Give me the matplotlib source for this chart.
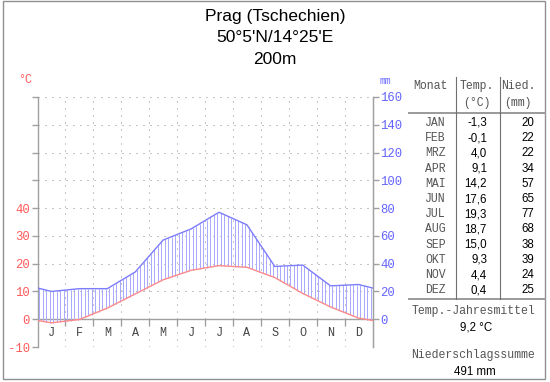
import numpy as np
import matplotlib
matplotlib.use("Agg")
import matplotlib.pyplot as plt
from matplotlib.patches import Rectangle
from matplotlib.lines import Line2D

# ---- data ----
title_lines = ["Prag (Tschechien)", "50°5'N/14°25'E", "200m"]
month_letters = ["J", "F", "M", "A", "M", "J", "J", "A", "S", "O", "N", "D"]
month_abbr = ["JAN", "FEB", "MRZ", "APR", "MAI", "JUN", "JUL", "AUG", "SEP", "OKT", "NOV", "DEZ"]
temperature = [-1.3, -0.1, 4.0, 9.1, 14.2, 17.6, 19.3, 18.7, 15.0, 9.3, 4.4, 0.4]
precipitation = [20, 22, 22, 34, 57, 65, 77, 68, 38, 39, 24, 25]
temp_labels = ["-1,3", "-0,1", "4,0", "9,1", "14,2", "17,6", "19,3", "18,7", "15,0", "9,3", "4,4", "0,4"]
annual_mean = "9,2 °C"
annual_sum = "491 mm"

W, H = 550, 382
fig = plt.figure(figsize=(W / 100, H / 100), dpi=100)
fig.patch.set_facecolor("white")

def fx(x):
    return x / W

def fy(y):
    return 1 - y / H

MONO = "Liberation Mono"
SANS = "Liberation Sans"
RED = "#ff5a5a"
BLUE = "#6464ff"
GRID = "#8a8a8a"
AXC = "#a0a0a0"

# ---- axes ----
left_px, right_px, top_px, bot_px = 37.5, 372.5, 97, 347
ax = fig.add_axes([fx(left_px), fy(bot_px), fx(right_px - left_px), (bot_px - top_px) / H])
ax.set_xlim(0, 12)
ax.set_ylim(-10, 80)
ax.set_facecolor("none")
for s in ["top", "bottom"]:
    ax.spines[s].set_visible(False)
for s in ["left", "right"]:
    ax.spines[s].set_color(AXC)
    ax.spines[s].set_linewidth(1.0)

# dotted grid
dot = (0, (1, 6))
for v in range(-10, 81, 10):
    if v == 0:
        continue
    ax.plot([0, 12], [v, v], color=GRID, lw=0.72, linestyle=dot, zorder=1)
for m in range(1, 12):
    ax.plot([m, m], [-10, 80], color=GRID, lw=0.72, linestyle=dot, zorder=1)
# zero line
ax.plot([0, 12], [0, 0], color=AXC, lw=1.0, zorder=2)
# month boundary ticks
for m in range(1, 12):
    ax.plot([m, m], [0, -2.2], color=AXC, lw=1.0, zorder=2)

# month letters
for i, l in enumerate(month_letters):
    ax.text(i + 0.5, -5.0, l, ha="center", va="center", fontsize=8.5,
            family=MONO, color="#444444")

# curves (wrapped to edges)
xm = np.arange(12) + 0.5
t = np.array(temperature)
p = np.array(precipitation) / 2.0
xe = np.concatenate([[0], xm, [12]])
te = np.concatenate([[(t[0] + t[-1]) / 2], t, [(t[0] + t[-1]) / 2]])
pe = np.concatenate([[(p[0] + p[-1]) / 2], p, [(p[0] + p[-1]) / 2]])

xs = np.arange(0, 12, 1 / 8) + 1 / 16
ti = np.interp(xs, xe, te)
pi = np.interp(xs, xe, pe)
mask = pi > ti
ax.vlines(xs[mask], ti[mask], pi[mask], color="#aaaaff", lw=0.72, zorder=3)

ax.plot(xe, pe, color="#7c7cff", lw=1.0, zorder=4)
ax.plot(xe, te, color="#ff8a8a", lw=1.0, zorder=4)

# left axis ticks
ax.set_xticks([])
ax.set_yticks(range(-10, 81, 10))
ax.set_yticklabels([str(v) if v <= 40 else "" for v in range(-10, 81, 10)])
ax.tick_params(axis="y", colors=AXC, labelcolor=RED, length=4, width=1.0, pad=1.5,
               labelsize=8.8)
for lab in ax.get_yticklabels():
    lab.set_family(MONO)

ax2 = ax.twinx()
ax2.set_ylim(-20, 160)
ax2.set_yticks(range(0, 161, 20))
ax2.tick_params(axis="y", colors=AXC, labelcolor=BLUE, length=4, width=1.0, pad=1.5,
                labelsize=8.8)
for lab in ax2.get_yticklabels():
    lab.set_family(MONO)
for s in ["top", "bottom", "left"]:
    ax2.spines[s].set_visible(False)
ax2.spines["right"].set_color(AXC)

fig.text(fx(25), fy(80), "°C", color=RED, fontsize=8.5, family=MONO, ha="center", va="center")
fig.text(fx(385), fy(81), "mm", color=BLUE, fontsize=7, family=MONO, ha="center", va="center")

# title
for i, line in enumerate(title_lines):
    fig.text(fx(275), fy([16, 38, 60][i]), line, ha="center", va="center",
             fontsize=12.5, family=SANS, color="black")

# ---- table ----
TG = "#555555"
fig.text(fx(430), fy(86), "Monat", ha="center", va="center", fontsize=8.3, family=MONO, color=TG)
fig.text(fx(477), fy(86), "Temp.", ha="center", va="center", fontsize=8.3, family=MONO, color=TG)
fig.text(fx(477), fy(103), "(°C)", ha="center", va="center", fontsize=8.3, family=MONO, color=TG)
fig.text(fx(518), fy(86), "Nied.", ha="center", va="center", fontsize=8.3, family=MONO, color=TG)
fig.text(fx(518), fy(103), "(mm)", ha="center", va="center", fontsize=8.3, family=MONO, color=TG)

for i in range(12):
    y = 123 + i * 15.2
    fig.text(fx(446), fy(y), month_abbr[i], ha="right", va="center", fontsize=8.3,
             family=MONO, color=TG)
    fig.text(fx(487), fy(y), temp_labels[i], ha="right", va="center", fontsize=8.3,
             family=SANS, color="black")
    fig.text(fx(534), fy(y), str(precipitation[i]), ha="right", va="center", fontsize=8.3,
             family=SANS, color="black")

LC = "#9a9a9a"
fig.add_artist(Line2D([fx(409), fx(545)], [fy(113), fy(113)], color=LC, lw=1.4))
fig.add_artist(Line2D([fx(409), fx(545)], [fy(299), fy(299)], color=LC, lw=1.4))
fig.add_artist(Line2D([fx(456), fx(456)], [fy(77), fy(299)], color="#707070", lw=0.8))
fig.add_artist(Line2D([fx(500), fx(500)], [fy(77), fy(299)], color="#707070", lw=0.8))

fig.text(fx(473), fy(311), "Temp.-Jahresmittel", ha="center", va="center", fontsize=8.3,
         family=MONO, color=TG)
fig.text(fx(476), fy(328), annual_mean, ha="center", va="center", fontsize=8.3,
         family=SANS, color="black")
fig.text(fx(473), fy(355), "Niederschlagssumme", ha="center", va="center", fontsize=8.3,
         family=MONO, color=TG)
fig.text(fx(475), fy(372), annual_sum, ha="center", va="center", fontsize=8.3,
         family=SANS, color="black")

# outer frame
fig.add_artist(Rectangle((fx(3), fy(379)), fx(542), (378) / H, transform=fig.transFigure,
                         fill=False, edgecolor="#909090", lw=1.0))

fig.savefig("out.png", dpi=100, facecolor="white")
